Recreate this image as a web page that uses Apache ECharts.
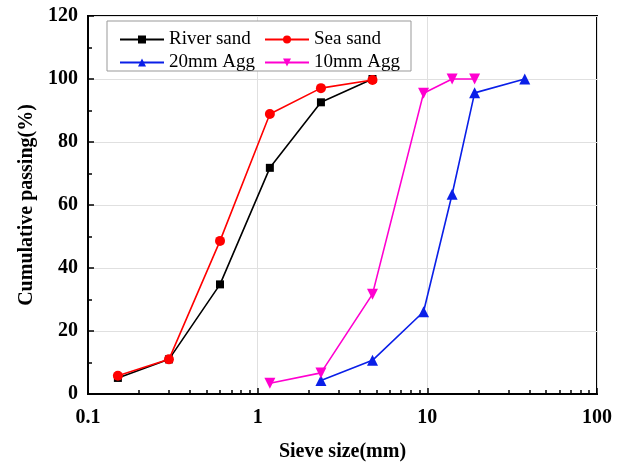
<!DOCTYPE html>
<html><head><meta charset="utf-8">
<script src="https://cdn.jsdelivr.net/npm/echarts@6/dist/echarts.min.js"></script>
<style>html,body{margin:0;padding:0;background:#fff}#c{width:625px;height:463px}</style>
</head><body><div id="c"></div>
<script>
const riverX = [0.15, 0.3, 0.6, 1.18, 2.36, 4.75];
const riverY = [5.1, 11, 34.8, 71.8, 92.6, 100];
const seaX = [0.15, 0.3, 0.6, 1.18, 2.36, 4.75];
const seaY = [5.8, 11, 48.6, 88.9, 97.1, 99.7];
const agg20X = [2.36, 4.75, 9.5, 14, 19, 37.5];
const agg20Y = [4.3, 10.7, 26.1, 63.4, 95.6, 100];
const agg10X = [1.18, 2.36, 4.75, 9.5, 14, 19];
const agg10Y = [3.4, 6.7, 31.7, 95.5, 100, 100];
const seriesNames = ['River sand', 'Sea sand', '20mm Agg', '10mm Agg'];
const xMinorTicks = [0.2,0.3,0.4,0.5,0.6,0.7,0.8,0.9,2,3,4,5,6,7,8,9,20,30,40,50,60,70,80,90];

const zip = (xs, ys) => xs.map((x, i) => [x, ys[i]]);
const font = 'Liberation Serif, Times New Roman, serif';

const chart = echarts.init(document.getElementById('c'), null, {renderer: 'canvas'});
const mk = (name, xs, ys, color, symbol, size) => ({
  name, type: 'line', data: zip(xs, ys), symbol, symbolSize: size,
  lineStyle: {color, width: 1.6}, itemStyle: {color}, color, animation: false, z: 5
});
chart.setOption({
  animation: false,
  grid: {left: 88, top: 16, right: 28, bottom: 69, outerBoundsMode: 'none', containLabel: false,
    show: true, borderColor: '#000', borderWidth: 2, backgroundColor: 'transparent'},
  xAxis: [{
    type: 'log', logBase: 10, min: 0.1, max: 100,
    name: 'Sieve size(mm)', nameLocation: 'middle', nameGap: 48,
    nameTextStyle: {fontFamily: font, fontWeight: 'bold', fontSize: 20, color: '#000'},
    axisLine: {lineStyle: {color: '#000', width: 2}},
    axisTick: {inside: true, length: 6, lineStyle: {color: '#000', width: 1.5}},
    axisLabel: {fontFamily: font, fontWeight: 'bold', fontSize: 20, color: '#000', margin: 14,
      formatter: v => String(v)},
    splitLine: {show: true, lineStyle: {color: '#e0e0e0', width: 1}}
  }, {
    type: 'log', logBase: 10, min: 0.1, max: 100, position: 'bottom', gridIndex: 0,
    axisLine: {show: false},
    axisTick: {show: true, inside: true, length: 4, customValues: xMinorTicks, lineStyle: {color: '#000', width: 1.5}},
    axisLabel: {show: false},
    splitLine: {show: false}
  }],
  yAxis: {
    type: 'value', min: 0, max: 120, interval: 20,
    name: 'Cumulative passing(%)', nameLocation: 'middle', nameGap: 51,
    nameTextStyle: {fontFamily: font, fontWeight: 'bold', fontSize: 20, color: '#000'},
    axisLine: {show: true, lineStyle: {color: '#000', width: 2}},
    axisTick: {show: true, inside: true, length: 6, lineStyle: {color: '#000', width: 1.5}},
    minorTick: {show: true, splitNumber: 2, length: 4, lineStyle: {color: '#000', width: 1.5}},
    axisLabel: {fontFamily: font, fontWeight: 'bold', fontSize: 20, color: '#000', margin: 10},
    splitLine: {show: true, lineStyle: {color: '#e0e0e0', width: 1}}
  },
  legend: [{
    data: [seriesNames[0], seriesNames[2]], orient: 'vertical', left: 114, top: 25,
    itemWidth: 44, itemHeight: 10, itemGap: 4,
    textStyle: {fontFamily: font, fontSize: 19, color: '#000'}
  }, {
    data: [seriesNames[1], seriesNames[3]], orient: 'vertical', left: 259, top: 25,
    itemWidth: 44, itemHeight: 10, itemGap: 4,
    textStyle: {fontFamily: font, fontSize: 19, color: '#000'}
  }],
  graphic: [{
    type: 'rect', shape: {x: 107, y: 21, width: 304, height: 50},
    style: {fill: '#fff', stroke: '#999', lineWidth: 1}, z: 1
  }],
  series: [
    mk(seriesNames[0], riverX, riverY, '#000000', 'rect', 8),
    mk(seriesNames[1], seaX, seaY, '#ff0000', 'circle', 10),
    mk(seriesNames[2], agg20X, agg20Y, '#0a1fe8', 'triangle', 11),
    mk(seriesNames[3], agg10X, agg10Y, '#ff00d0', 'path://M0,0 L10,0 L5,9 Z', 11)
  ]
});
</script></body></html>
